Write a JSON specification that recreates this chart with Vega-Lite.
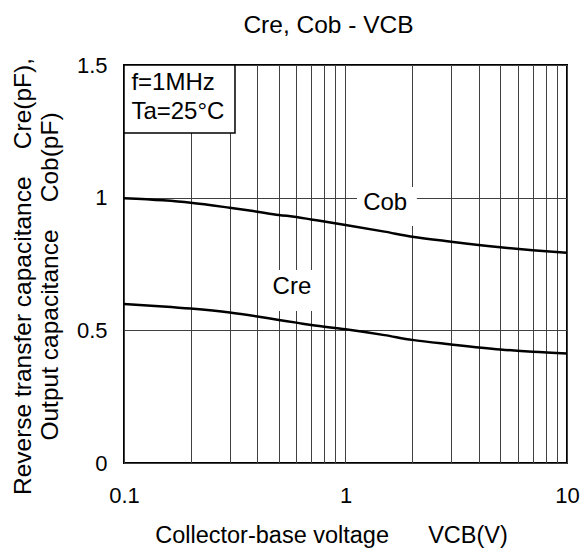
{
  "$schema": "https://vega.github.io/schema/vega-lite/v6.json",
  "autosize": "none",
  "width": 443,
  "height": 398,
  "padding": {"left": 124, "top": 65, "right": 18, "bottom": 91},
  "background": "white",
  "title": {
    "text": "Cre, Cob - VCB",
    "font": "Liberation Sans",
    "fontSize": 24.5,
    "fontWeight": "normal",
    "color": "black",
    "anchor": "middle",
    "baseline": "alphabetic",
    "offset": 20,
    "dx": -17,
    "dy": 23
  },
  "config": {
    "view": {"stroke": "black", "strokeWidth": 2},
    "axis": {
      "labelFont": "Liberation Sans",
      "labelFontSize": 22,
      "labelColor": "black",
      "titleFont": "Liberation Sans",
      "titleFontSize": 23.5,
      "titleFontWeight": "normal",
      "titleColor": "black",
      "ticks": false,
      "domain": false,
      "grid": true,
      "gridColor": "#404040",
      "gridOpacity": 1,
      "gridWidth": 1
    },
    "text": {"font": "Liberation Sans", "fontSize": 24, "color": "black"}
  },
  "datasets": {
    "curves": [
      {"v": 0.1, "c": 0.998, "s": "Cob"},
      {"v": 0.15, "c": 0.99, "s": "Cob"},
      {"v": 0.2, "c": 0.981, "s": "Cob"},
      {"v": 0.3, "c": 0.962, "s": "Cob"},
      {"v": 0.4, "c": 0.947, "s": "Cob"},
      {"v": 0.5, "c": 0.935, "s": "Cob"},
      {"v": 0.6, "c": 0.927, "s": "Cob"},
      {"v": 0.7, "c": 0.918, "s": "Cob"},
      {"v": 1, "c": 0.897, "s": "Cob"},
      {"v": 1.5, "c": 0.872, "s": "Cob"},
      {"v": 2, "c": 0.853, "s": "Cob"},
      {"v": 3, "c": 0.834, "s": "Cob"},
      {"v": 5, "c": 0.813, "s": "Cob"},
      {"v": 7, "c": 0.802, "s": "Cob"},
      {"v": 10, "c": 0.792, "s": "Cob"},
      {"v": 0.1, "c": 0.599, "s": "Cre"},
      {"v": 0.15, "c": 0.59, "s": "Cre"},
      {"v": 0.2, "c": 0.582, "s": "Cre"},
      {"v": 0.3, "c": 0.567, "s": "Cre"},
      {"v": 0.4, "c": 0.552, "s": "Cre"},
      {"v": 0.5, "c": 0.539, "s": "Cre"},
      {"v": 0.6, "c": 0.529, "s": "Cre"},
      {"v": 0.7, "c": 0.52, "s": "Cre"},
      {"v": 1, "c": 0.504, "s": "Cre"},
      {"v": 1.5, "c": 0.482, "s": "Cre"},
      {"v": 2, "c": 0.464, "s": "Cre"},
      {"v": 3, "c": 0.447, "s": "Cre"},
      {"v": 5, "c": 0.428, "s": "Cre"},
      {"v": 7, "c": 0.419, "s": "Cre"},
      {"v": 10, "c": 0.413, "s": "Cre"}
    ],
    "boxes": [
      {"x1": 0.1, "x2": 0.317, "y1": 1.5, "y2": 1.244, "k": "legend"},
      {"x1": 1.127, "x2": 2.1, "y1": 1.04, "y2": 0.893, "k": "cob"},
      {"x1": 0.42, "x2": 0.767, "y1": 0.727, "y2": 0.573, "k": "cre"}
    ],
    "curveLabels": [
      {"v": 1.51, "c": 0.98, "t": "Cob"},
      {"v": 0.573, "c": 0.663, "t": "Cre"}
    ],
    "condLabels": [
      {"v": 0.108, "c": 1.434, "t": "f=1MHz"},
      {"v": 0.108, "c": 1.321, "t": "Ta=25°C"}
    ]
  },
  "layer": [
    {
      "data": {"name": "boxes"},
      "transform": [{"filter": "datum.k != 'legend'"}],
      "mark": {"type": "rect", "fill": "white", "stroke": null},
      "encoding": {
        "x": {
          "field": "x1", "type": "quantitative",
          "scale": {"type": "log", "domain": [0.1, 10], "nice": false},
          "axis": {
            "values": [0.1, 0.2, 0.3, 0.4, 0.5, 0.6, 0.7, 0.8, 0.9, 1, 2, 3, 4, 5, 6, 7, 8, 9, 10],
            "labelExpr": "datum.value == 0.1 ? '0.1' : datum.value == 1 ? '1' : datum.value == 10 ? '10' : ''",
            "labelFlush": false,
            "labelOverlap": false,
            "labelPadding": 22,
            "title": "Collector-base voltage\u00a0\u00a0\u00a0\u00a0\u00a0\u00a0VCB(V)",
            "titlePadding": 17,
            "titleX": 207
          }
        },
        "x2": {"field": "x2"},
        "y": {
          "field": "y1", "type": "quantitative",
          "scale": {"domain": [0, 1.5], "nice": false},
          "axis": {
            "values": [0, 0.5, 1, 1.5],
            "format": "~g",
            "labelPadding": 17,
            "title": ["Reverse transfer capacitance\u00a0\u00a0\u00a0\u00a0Cre(pF),", "Output capacitance\u00a0\u00a0\u00a0\u00a0Cob(pF)"],
            "titleFontSize": 24.5,
            "titleLineHeight": 27,
            "titlePadding": 14,
            "titleY": 211
          }
        },
        "y2": {"field": "y2"}
      }
    },
    {
      "data": {"name": "boxes"},
      "transform": [{"filter": "datum.k == 'legend'"}],
      "mark": {"type": "rect", "fill": "white", "stroke": "black", "strokeWidth": 1.5},
      "encoding": {
        "x": {"field": "x1", "type": "quantitative"},
        "x2": {"field": "x2"},
        "y": {"field": "y1", "type": "quantitative"},
        "y2": {"field": "y2"}
      }
    },
    {
      "data": {"name": "curves"},
      "mark": {"type": "line", "color": "black", "strokeWidth": 2.5, "interpolate": "monotone"},
      "encoding": {
        "x": {"field": "v", "type": "quantitative"},
        "y": {"field": "c", "type": "quantitative"},
        "detail": {"field": "s"}
      }
    },
    {
      "data": {"name": "curveLabels"},
      "mark": {"type": "text", "baseline": "middle", "align": "center"},
      "encoding": {
        "x": {"field": "v", "type": "quantitative"},
        "y": {"field": "c", "type": "quantitative"},
        "text": {"field": "t"}
      }
    },
    {
      "data": {"name": "condLabels"},
      "mark": {"type": "text", "baseline": "middle", "align": "left"},
      "encoding": {
        "x": {"field": "v", "type": "quantitative"},
        "y": {"field": "c", "type": "quantitative"},
        "text": {"field": "t"}
      }
    }
  ]
}
